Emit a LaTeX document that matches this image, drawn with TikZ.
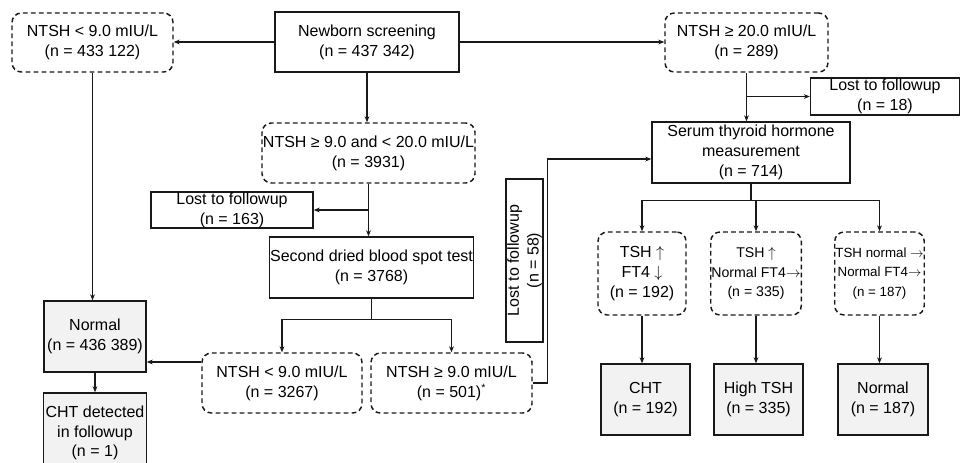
\documentclass[tikz,border=0pt]{standalone}
\usepackage{fontspec}
\setmainfont{Liberation Sans}
\usetikzlibrary{arrows.meta}
\newcommand{\upa}{$\uparrow$}
\newcommand{\dna}{$\downarrow$}
\newcommand{\ria}{$\rightarrow$}
\begin{document}
\begin{tikzpicture}[x=0.75pt,y=-0.75pt,
  font=\fontsize{12}{14.8}\selectfont,
  base/.style={draw=black!90, line width=1.1pt, align=center, inner sep=0.5pt, anchor=center},
  sbox/.style 2 args={base, minimum width=#1*0.75pt, minimum height=#2*0.75pt},
  dbox/.style 2 args={sbox={#1}{#2}, rounded corners=7pt, dash pattern=on 3.6pt off 2.4pt},
  gbox/.style 2 args={sbox={#1}{#2}, fill=black!5},
  arr/.style={-{Stealth[length=4.5pt,width=3.6pt]}, line width=1pt, draw=black!90},
  ln/.style={line width=1pt, draw=black!90},
  small/.style={font=\fontsize{10.6}{14.5}\selectfont},
  smaller/.style={font=\fontsize{10}{14.5}\selectfont}
]
\clip (0,0) rectangle (963,462);
\fill[white] (0,0) rectangle (963,462);

% nodes
\node[sbox={184}{60}] (B) at (367,42) {Newborn screening\\(n = 437 342)};
\node[dbox={161}{59}] (A) at (92.5,42.5) {NTSH < 9.0 mIU/L\\(n = 433 122)};
\node[dbox={163}{59}] (C) at (746.5,42.5) {NTSH ≥ 20.0 mIU/L\\(n = 289)};
\node[sbox={149}{37}] (D) at (885,96.5) {Lost to followup\\(n = 18)};
\node[sbox={198}{61}] (E) at (751,152.5) {Serum thyroid hormone\\measurement\\(n = 714)};
\node[dbox={213}{60}] (F) at (368.5,153) {NTSH ≥ 9.0 and < 20.0 mIU/L\\(n = 3931)};
\node[sbox={162}{36}] (G) at (232,210) {Lost to followup\\(n = 163)};
\node[sbox={199}{61}] (H) at (371.5,267.5) {Second dried blood spot test\\(n = 3768)};
\node[gbox={102}{71}] (I) at (95,336.5) {Normal\\(n = 436 389)};
\node[gbox={103}{80}] (J) at (95,433) {CHT detected\\in followup\\(n = 1)};
\node[dbox={160}{60}] (K) at (282,383) {NTSH < 9.0 mIU/L\\(n = 3267)};
\node[dbox={161}{60}] (L) at (451.5,383) {NTSH ≥ 9.0 mIU/L\\(n = 501)\textsuperscript{*}};
\node[sbox={163}{37}, rotate=90] (M) at (524.5,260.5) {Lost to followup\\(n = 58)};
\node[dbox={88}{83}] (N) at (642,273.5) {TSH \upa\\FT4 \dna\\(n = 192)};
\node[dbox={88}{83}, small] (O) at (756,273.5) {TSH \upa\\Normal FT4\ria\\(n = 335)};
\node[dbox={87}{83}, smaller] (P) at (879.5,273.5) {TSH normal \ria\\Normal FT4\ria\\(n = 187)};
\node[gbox={89}{71}] (Q) at (645.5,399.5) {CHT\\(n = 192)};
\node[gbox={89}{71}] (R) at (758.5,399.5) {High TSH\\(n = 335)};
\node[gbox={90}{71}] (S) at (883,399.5) {Normal\\(n = 187)};

% connectors
\draw[arr] (B.west) -- (A.east |- B.west);
\draw[arr] (B.east) -- (C.west |- B.east);
\draw[arr] (B.south) -- (B.south |- F.north);
\draw[arr] (A.south) -- (A.south |- I.north);

\draw[arr] (C.south) -- (C.south |- E.north);
\draw[arr] (C.south |- D.west) -- (D.west);

\draw[arr] (F.south) -- (F.south |- H.north);
\draw[arr] (F.south |- G.east) -- (G.east);

\draw[ln] (H.south) -- ++(0,21) coordinate (hj);
\draw[arr] (hj) -| (K.north);
\draw[arr] (hj) -| (L.north);

\coordinate (k1) at ([yshift=15.75pt]K.west);
\draw[arr] (k1) -- (k1 -| I.east);
\draw[arr] (I.south) -- (J.north);

\draw[arr] (L.east) -- ++(15,0) |- ([yshift=-4.9pt]E.west);

\draw[ln] (E.south) -- ++(0,17) coordinate (ej);
\draw[arr] (ej) -| (N.north);
\draw[arr] (ej) -| (O.north);
\draw[arr] (ej) -| (P.north);

\draw[arr] (N.south) -- (N.south |- Q.north);
\draw[arr] (O.south) -- (O.south |- R.north);
\draw[arr] (P.south) -- (P.south |- S.north);
\end{tikzpicture}
\end{document}
